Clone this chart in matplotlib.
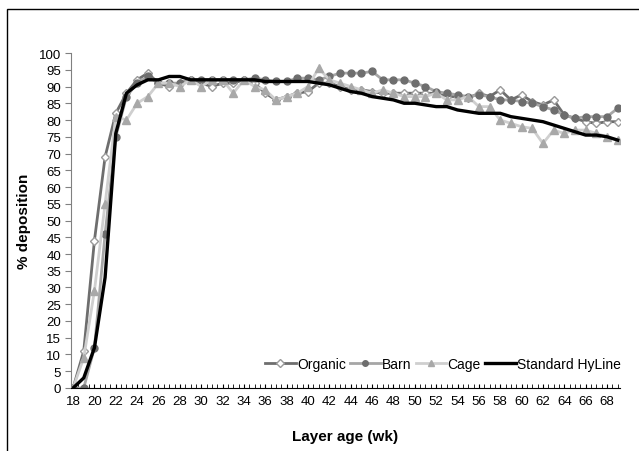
import matplotlib.pyplot as plt
from matplotlib.patches import Rectangle
from matplotlib.ticker import MultipleLocator

plt.rcParams['font.family'] = ['Liberation Sans', 'DejaVu Sans']

# layer age in weeks
weeks = list(range(18, 70))

organic = [0, 11, 44, 69, 82, 88, 92, 94, 91, 90,
           91, 92, 91, 90, 91, 91, 92, 91, 88, 86,
           87, 88, 88.5, 91, 91, 90, 89, 89, 88.5, 88,
           88, 88, 88, 88, 88, 87, 87, 86.5, 88, 87,
           89, 86, 87.5, 85.5, 84.5, 86, 81.5, 80.5, 79.5, 79,
           79.5, 79.5]
barn = [0, 0, 12, 46, 75, 87, 91, 93, 91, 91,
        91, 92, 92, 92, 92, 92, 92, 92.5, 92, 91.5,
        91.5, 92.5, 92.5, 92, 93, 94, 94, 94, 94.5, 92,
        92, 92, 91, 90, 88.5, 88, 87.5, 87, 87.5, 87,
        86, 86, 85.5, 85, 84, 83, 81.5, 80.5, 81, 81,
        81, 83.5]
cage = [0, 9, 29, 55, 81, 80, 85, 87, 91, 91,
        90, 92, 90, 92, 92, 88, 92, 90, 89, 86,
        87, 88, 90, 95.5, 92, 91, 90, 89, 88, 89,
        88, 87, 87, 87, 88, 86, 86, 87, 84, 84,
        80, 79, 78, 77.5, 73, 77, 76, 77, 77, 76,
        75, 74]
standard = [0, 3, 12, 33, 76, 88, 90.5, 92, 92, 93,
            93, 92, 92, 92, 92, 92, 92, 92, 91.5, 91.5,
            91.5, 91.5, 91.5, 91, 90.5, 89.5, 88.5, 88, 87, 86.5,
            86, 85, 85, 84.5, 84, 84, 83, 82.5, 82, 82,
            82, 81, 80.5, 80, 79.5, 78.5, 77.5, 76.5, 75.5, 75.5,
            75, 74]

fig = plt.figure(figsize=(6.39, 4.52), dpi=100)
ax = fig.add_axes([0.111, 0.1394, 0.859, 0.7411])

ax.plot(weeks, organic, color='#6e6e6e', lw=2, marker='D', ms=4.5,
        mfc='white', mec='#9a9a9a', mew=1, label='Organic')
ax.plot(weeks, barn, color='#a6a6a6', lw=2, marker='o', ms=5,
        mfc='#6e6e6e', mec='#6e6e6e', label='Barn')
ax.plot(weeks, cage, color='#cfcfcf', lw=2, marker='^', ms=5.5,
        mfc='#a8a8a8', mec='#a8a8a8', label='Cage')
ax.plot(weeks, standard, color='black', lw=2.4, label='Standard HyLine')

ax.set_xlim(17.8, 69.2)
ax.set_ylim(0, 100)
ax.xaxis.set_major_locator(MultipleLocator(2))
ax.xaxis.set_minor_locator(MultipleLocator(0.5))
ax.yaxis.set_major_locator(MultipleLocator(5))

for s in ['top', 'right']:
    ax.spines[s].set_visible(False)
ax.spines['left'].set_color('#808080')
ax.spines['bottom'].set_color('black')

ax.tick_params(axis='y', direction='out', length=4, color='#808080',
               labelsize=9.5, pad=3)
ax.tick_params(axis='x', which='both', direction='in', length=3,
               labelsize=9.5, pad=5)

ax.set_xlabel('Layer age (wk)', fontsize=11, fontweight='bold', labelpad=16)
ax.set_ylabel('% deposition', fontsize=11, fontweight='bold', labelpad=6)

leg = ax.legend(loc='lower right', bbox_to_anchor=(1.012, 0.035), ncol=4,
                frameon=False, fontsize=10, handlelength=2.2,
                handletextpad=0.1, columnspacing=0.3, borderaxespad=0,
                markerscale=0.8)

# outer chart frame
fig.add_artist(Rectangle((7 / 639, -0.5), 2, 0.5 + 1 - 10 / 452,
                         transform=fig.transFigure, fill=False,
                         ec='black', lw=1))

fig.savefig('out.png', dpi=100)
